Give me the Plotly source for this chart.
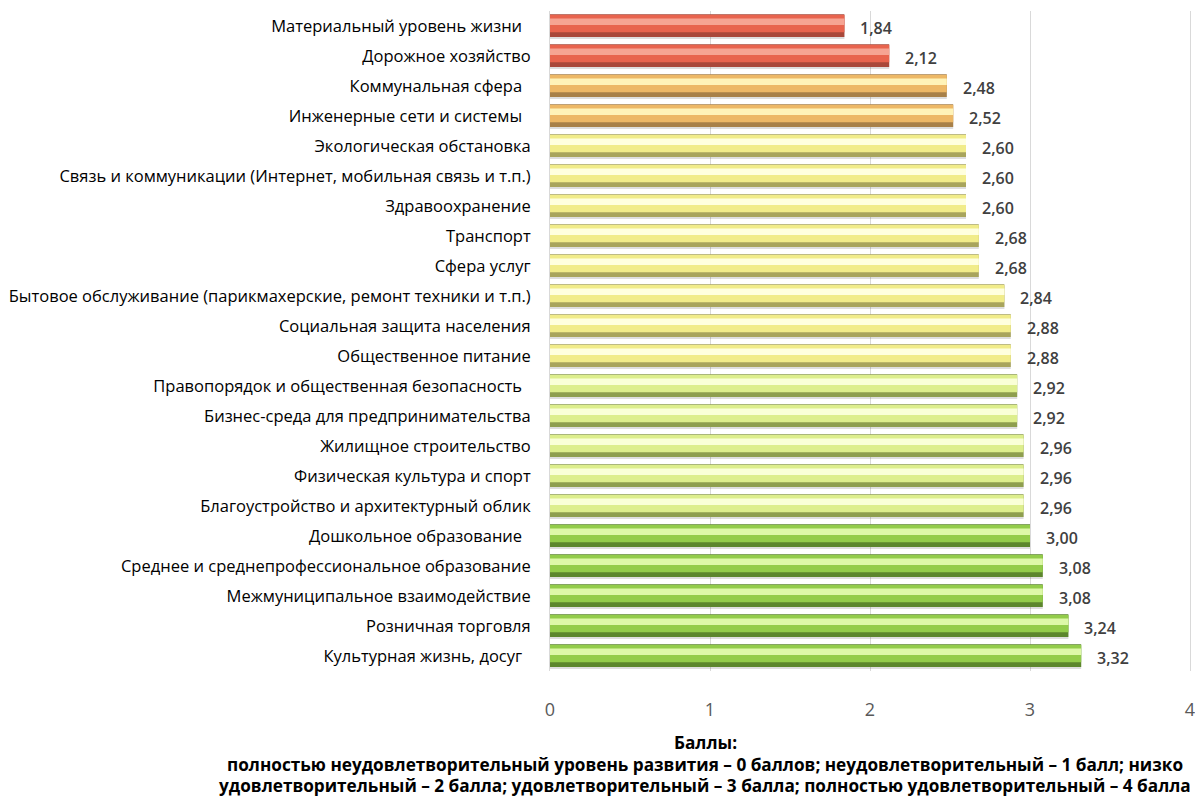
import plotly.graph_objects as go

categories = [
    "Материальный уровень жизни  ",
    "Дорожное хозяйство",
    "Коммунальная сфера  ",
    "Инженерные сети и системы  ",
    "Экологическая обстановка",
    "Связь и коммуникации (Интернет, мобильная связь и т.п.)",
    "Здравоохранение",
    "Транспорт",
    "Сфера услуг",
    "Бытовое обслуживание (парикмахерские, ремонт техники и т.п.)",
    "Социальная защита населения",
    "Общественное питание",
    "Правопорядок и общественная безопасность  ",
    "Бизнес-среда для предпринимательства",
    "Жилищное строительство",
    "Физическая культура и спорт",
    "Благоустройство и архитектурный облик",
    "Дошкольное образование  ",
    "Среднее и среднепрофессиональное образование",
    "Межмуниципальное взаимодействие",
    "Розничная торговля",
    "Культурная жизнь, досуг  ",
]
values = [1.84, 2.12, 2.48, 2.52, 2.60, 2.60, 2.60, 2.68, 2.68, 2.84, 2.88,
          2.88, 2.92, 2.92, 2.96, 2.96, 2.96, 3.00, 3.08, 3.08, 3.24, 3.32]
tiers = ["red", "red", "orange", "orange", "yellow", "yellow", "yellow", "yellow",
         "yellow", "yellow", "yellow", "yellow", "lime", "lime", "lime", "lime",
         "lime", "green", "green", "green", "green", "green"]
tick_vals = [0, 1, 2, 3, 4]
axis_title_lines = [
    "Баллы:",
    "полностью неудовлетворительный уровень развития – 0 баллов; неудовлетворительный – 1 балл; низко",
    "удовлетворительный – 2 балла; удовлетворительный – 3 балла; полностью удовлетворительный – 4 балла",
]

palette = {
    "red":    {"dark": "#A9483A", "main": "#E8644E", "hi": "#F6A493"},
    "orange": {"dark": "#A88048", "main": "#EDB866", "hi": "#FFF3B8"},
    "yellow": {"dark": "#A8A45C", "main": "#F1EC8A", "hi": "#FFFFDE"},
    "lime":   {"dark": "#8E9E4E", "main": "#DDEE8C", "hi": "#FAFFD6"},
    "green":  {"dark": "#5C862C", "main": "#93CC4A", "hi": "#DDF8A8"},
}

def cols(key):
    return [palette[t][key] for t in tiers]

fig = go.Figure()
fig.add_trace(go.Bar(y=categories, x=values, orientation="h", width=0.78, offset=-0.35,
                     marker=dict(color="rgba(0,0,0,0.13)", line=dict(width=0)),
                     hoverinfo="skip", showlegend=False))
fig.add_trace(go.Bar(y=categories, x=values, orientation="h", width=0.76, offset=-0.39,
                     marker=dict(color=cols("dark"), line=dict(width=0)),
                     hoverinfo="skip", showlegend=False))
fig.add_trace(go.Bar(y=categories, x=values, orientation="h", width=0.58, offset=-0.37,
                     marker=dict(color=cols("main"), line=dict(width=0)),
                     hoverinfo="skip", showlegend=False))
fig.add_trace(go.Bar(y=categories, x=values, orientation="h", width=0.22, offset=-0.25,
                     marker=dict(color=cols("hi"), line=dict(width=0)),
                     showlegend=False, name=""))

annotations = []
for c, v in zip(categories, values):
    annotations.append(dict(x=v, y=c, xref="x", yref="y", text=f"{v:.2f}".replace(".", ","),
                            showarrow=False, xanchor="left", xshift=14, yshift=-2,
                            font=dict(family="Open Sans, sans-serif", size=16, color="#404040", weight=600)))

title_y = [-0.1076, -0.1424, -0.1742]
for line, yy in zip(axis_title_lines, title_y):
    annotations.append(dict(x=0.2426, y=yy, xref="paper", yref="paper", xanchor="center", yanchor="middle",
                            showarrow=False, text=f"<b>{line}</b>",
                            font=dict(family="Open Sans, sans-serif", size=17.2, color="#000000")))

fig.update_layout(
    width=1187, height=789,
    margin=dict(l=542, r=5, t=3, b=126, autoexpand=False),
    paper_bgcolor="white", plot_bgcolor="white",
    barmode="overlay",
    font=dict(family="Open Sans, sans-serif"),
    annotations=annotations,
    xaxis=dict(range=[0, 4], tickvals=tick_vals, ticktext=[str(t) for t in tick_vals], automargin=False,
               showgrid=True, gridcolor="#D9D9D9", gridwidth=1, zeroline=False, ticklabeloverflow="allow",
               showline=False, tickfont=dict(size=18, color="#595959"), ticks="", ticklabelstandoff=26),
    yaxis=dict(autorange="reversed", showgrid=False, showline=True, linecolor="#D9D9D9", linewidth=1,
               mirror=True, automargin=False, ticks="", tickfont=dict(size=16.5, color="#000000"),
               ticklabelstandoff=15),
)

fig.write_html("out.html")
